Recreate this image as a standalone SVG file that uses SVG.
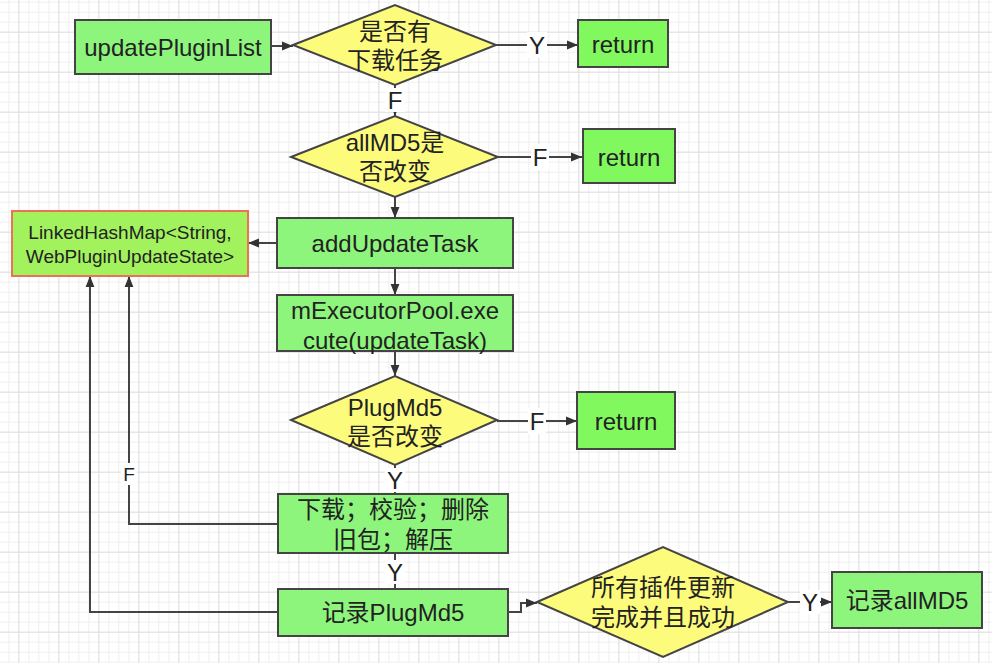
<svg xmlns="http://www.w3.org/2000/svg" width="992" height="663" viewBox="0 0 992 663">
<defs>
<pattern id="minor" patternUnits="userSpaceOnUse" x="8.3" y="1.7" width="10" height="10">
<path d="M0.5 0V10M0 0.5H10" stroke="#efefef" stroke-width="1" fill="none"/>
</pattern>
<pattern id="major" patternUnits="userSpaceOnUse" x="18.3" y="31.7" width="40" height="40">
<path d="M0.5 0V40M0 0.5H40" stroke="#e0e0e0" stroke-width="1" fill="none"/>
</pattern>
<marker id="arr" viewBox="0 0 10 10" refX="10" refY="5" markerWidth="11" markerHeight="11" markerUnits="userSpaceOnUse" orient="auto">
<path d="M0 1L10 5L0 9Z" fill="#333"/>
</marker>
<style>
.box{fill:#8ef57c;stroke:#444;stroke-width:2}
.ret{fill:#80f85e;stroke:#444;stroke-width:2}
.dia{fill:#fdfb7c;stroke:#444;stroke-width:2}
.t{font-family:"Liberation Sans","Noto Sans CJK SC",sans-serif;font-size:24px;fill:#222;text-anchor:middle;dominant-baseline:central}
.s{font-size:19px}
.c{fill:none;stroke:#444;stroke-width:2}
.lb{fill:#fff}
</style>
</defs>
<rect width="992" height="663" fill="#fff"/>
<rect width="992" height="663" fill="url(#minor)"/>
<rect width="992" height="663" fill="url(#major)"/>

<g id="connectors">
<path class="c" d="M271 46H293" marker-end="url(#arr)"/>
<path class="c" d="M496 45H578" marker-end="url(#arr)"/>
<path class="c" d="M395 85V116" marker-end="url(#arr)"/>
<path class="c" d="M498 157H582" marker-end="url(#arr)"/>
<path class="c" d="M395 197V218" marker-end="url(#arr)"/>
<path class="c" d="M277 243H248" marker-end="url(#arr)"/>
<path class="c" d="M395 268V295" marker-end="url(#arr)"/>
<path class="c" d="M395 351V376" marker-end="url(#arr)"/>
<path class="c" d="M497 421H577" marker-end="url(#arr)"/>
<path class="c" d="M395 465V494"/>
<path class="c" d="M395 553V589"/>
<path class="c" d="M278 524H129V276" marker-end="url(#arr)"/>
<path class="c" d="M278 612H90V276" marker-end="url(#arr)"/>
<path class="c" d="M508 612H521V603H537" marker-end="url(#arr)"/>
<path class="c" d="M788 602H832" marker-end="url(#arr)"/>
<rect class="lb" x="527" y="32" width="20" height="26"/>
<text class="t" x="537" y="45">Y</text>
<rect class="lb" x="385" y="88" width="20" height="24"/>
<text class="t" x="395" y="100">F</text>
<rect class="lb" x="531" y="144" width="18" height="26"/>
<text class="t" x="540" y="157">F</text>
<rect class="lb" x="528" y="408" width="18" height="26"/>
<text class="t" x="537" y="421">F</text>
<rect class="lb" x="385" y="468" width="20" height="24"/>
<text class="t" x="395" y="480">Y</text>
<rect class="lb" x="385" y="560" width="20" height="24"/>
<text class="t" x="395" y="572">Y</text>
<rect class="lb" x="121" y="463" width="16" height="22"/>
<text class="t s" x="129" y="474">F</text>
<rect class="lb" x="800" y="590" width="20" height="24"/>
<text class="t" x="810" y="602">Y</text>
</g>

<g id="updatePluginList">
<rect class="box" x="75" y="20" width="196" height="54"/>
<text class="t" x="173" y="47">updatePluginList</text>
</g>
<g id="hasTask">
<path class="dia" d="M293 45L395 5L496 45L395 85Z"/>
<text class="t" x="395" y="31">是否有</text>
<text class="t" x="395" y="60">下载任务</text>
</g>
<g id="return1">
<rect class="ret" x="578" y="20" width="90" height="47"/>
<text class="t" x="623" y="44">return</text>
</g>
<g id="allMD5Changed">
<path class="dia" d="M291 157L395 116L498 157L395 197Z"/>
<text class="t" x="395" y="142">allMD5是</text>
<text class="t" x="395" y="171">否改变</text>
</g>
<g id="return2">
<rect class="ret" x="583" y="129" width="92" height="54"/>
<text class="t" x="629" y="157">return</text>
</g>
<g id="linkedHashMap">
<rect x="12" y="211" width="236" height="65" fill="#a2f25e" stroke="#ee7055" stroke-width="2"/>
<text class="t s" x="130" y="232">LinkedHashMap&lt;String,</text>
<text class="t s" x="130" y="256">WebPluginUpdateState&gt;</text>
</g>
<g id="addUpdateTask">
<rect class="box" x="277" y="218" width="236" height="50"/>
<text class="t" x="395" y="243">addUpdateTask</text>
</g>
<g id="execute">
<rect class="box" x="277" y="295" width="236" height="56"/>
<text class="t" x="395" y="310">mExecutorPool.exe</text>
<text class="t" x="395" y="340">cute(updateTask)</text>
</g>
<g id="plugMd5Changed">
<path class="dia" d="M291 420L395 376L497 420L395 465Z"/>
<text class="t" x="395" y="407">PlugMd5</text>
<text class="t" x="395" y="436">是否改变</text>
</g>
<g id="return3">
<rect class="ret" x="577" y="392" width="98" height="57"/>
<text class="t" x="626" y="421">return</text>
</g>
<g id="download">
<rect class="box" x="278" y="494" width="230" height="59"/>
<text class="t" x="393" y="509">下载；校验；删除</text>
<text class="t" x="393" y="539">旧包；解压</text>
</g>
<g id="recordPlugMd5">
<rect class="box" x="278" y="589" width="230" height="47"/>
<text class="t" x="393" y="612">记录PlugMd5</text>
</g>
<g id="allDone">
<path class="dia" d="M537 602L663 547L788 602L663 657Z"/>
<text class="t" x="663" y="587">所有插件更新</text>
<text class="t" x="663" y="617">完成并且成功</text>
</g>
<g id="recordAllMD5">
<rect class="box" x="832" y="572" width="150" height="56"/>
<text class="t" x="907" y="600">记录allMD5</text>
</g>
</svg>
